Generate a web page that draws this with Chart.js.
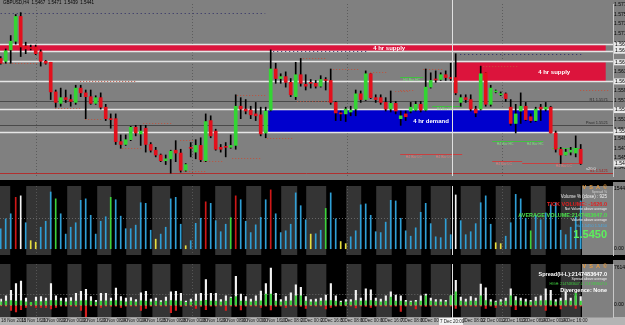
<!DOCTYPE html>
<html><head><meta charset="utf-8">
<script src="https://cdn.jsdelivr.net/npm/chart.js@4.4.1/dist/chart.umd.min.js"></script>
<style>
html,body{margin:0;padding:0;background:#000;}
#wrap{position:relative;width:625px;height:325px;background:#000;overflow:hidden;}
.pane{position:absolute;left:0;width:625px;}
</style></head><body>
<div id="wrap">
  <div class="pane" style="top:0;height:180px"><canvas id="price"></canvas></div>
  <div class="pane" style="top:182px;height:77px"><canvas id="vol"></canvas></div>
  <div class="pane" style="top:260px;height:65px"><canvas id="spread"></canvas></div>
</div>
<script>
// GBPUSD H4 candles
const opens = [1.5661,1.5655,1.5679,1.5697,1.5749,1.5687,1.5683,1.5685,1.5675,1.5655,
1.5653,1.5591,1.5567,1.5579,1.5575,1.5569,1.5599,1.5589,1.5581,1.5567,
1.5579,1.5559,1.5535,1.5535,1.5487,1.5481,1.5491,1.5517,1.5503,1.5515,
1.5481,1.5469,1.5459,1.5447,1.5451,1.5469,1.5463,1.5427,1.5475,1.5465,
1.5479,1.5447,1.5531,1.5509,1.5475,1.5477,1.5475,1.5479,1.5561,1.5555,
1.5553,1.5545,1.5543,1.5505,1.5553,1.5639,1.5619,1.5623,1.5611,1.5581,
1.5627,1.5607,1.5611,1.5609,1.5603,1.5617,1.5615,1.5569,1.5547,1.5545,
1.5549,1.5555,1.5587,1.5575,1.5629,1.5579,1.5579,1.5569,1.5555,1.5567,
1.5535,1.5545,1.5551,1.5553,1.5565,1.5553,1.5601,1.5617,1.5617,1.5627,
1.5621,1.5621,1.5569,1.5579,1.5575,1.5555,1.5555,1.5631,1.5565,1.5591,
1.5585,1.5587,1.5559,1.5525,1.5551,1.5561,1.5539,1.5531,1.5559,1.5555,
1.5559,1.5505,1.5471,1.5459,1.5465,1.5463,1.5471];
const closes = [1.5651,1.5677,1.5697,1.5749,1.5685,1.5681,1.5682,1.5671,1.5655,1.5651,
1.5591,1.5569,1.5579,1.5575,1.5571,1.5599,1.5589,1.5581,1.5567,1.5579,
1.5559,1.5535,1.5533,1.5487,1.5481,1.5491,1.5517,1.5505,1.5509,1.5481,
1.5469,1.5459,1.5447,1.5451,1.5467,1.5463,1.5427,1.5439,1.5473,1.5479,
1.5449,1.5529,1.5499,1.5471,1.5471,1.5475,1.5479,1.5561,1.5555,1.5551,
1.5543,1.5541,1.5503,1.5551,1.5639,1.5619,1.5623,1.5611,1.5585,1.5627,
1.5609,1.5603,1.5609,1.5603,1.5617,1.5615,1.5569,1.5547,1.5545,1.5555,
1.5553,1.5587,1.5575,1.5629,1.5579,1.5575,1.5569,1.5555,1.5567,1.5551,
1.5541,1.5539,1.5559,1.5565,1.5553,1.5601,1.5615,1.5616,1.5627,1.5621,
1.5619,1.5589,1.5579,1.5575,1.5555,1.5547,1.5629,1.5565,1.5599,1.5593,
1.5587,1.5577,1.5525,1.5545,1.5561,1.5533,1.5531,1.5555,1.5555,1.5559,
1.5505,1.5471,1.5459,1.5465,1.5469,1.5473,1.5441];
const highs = [1.5665,1.5681,1.5709,1.5753,1.5757,1.5695,1.5689,1.5689,1.5679,1.5657,
1.5653,1.5595,1.5599,1.5595,1.5585,1.5605,1.5605,1.5595,1.5595,1.5583,
1.5589,1.5565,1.5545,1.5545,1.5501,1.5501,1.5519,1.5521,1.5521,1.5521,
1.5485,1.5475,1.5461,1.5459,1.5469,1.5489,1.5471,1.5441,1.5485,1.5491,
1.5495,1.5545,1.5541,1.5513,1.5481,1.5485,1.5501,1.5585,1.5579,1.5575,
1.5561,1.5569,1.5559,1.5559,1.5679,1.5651,1.5629,1.5633,1.5619,1.5653,
1.5661,1.5627,1.5617,1.5615,1.5625,1.5621,1.5639,1.5571,1.5551,1.5559,
1.5561,1.5595,1.5593,1.5635,1.5629,1.5585,1.5585,1.5579,1.5593,1.5571,
1.5551,1.5551,1.5569,1.5571,1.5571,1.5639,1.5631,1.5635,1.5631,1.5635,
1.5651,1.5671,1.5585,1.5585,1.5585,1.5561,1.5645,1.5631,1.5605,1.5595,
1.5591,1.5589,1.5575,1.5565,1.5589,1.5569,1.5545,1.5559,1.5565,1.5569,
1.5561,1.5509,1.5475,1.5471,1.5475,1.5499,1.5481];
const lows = [1.5649,1.5651,1.5651,1.5691,1.5665,1.5671,1.5679,1.5669,1.5645,1.5649,
1.5575,1.5559,1.5561,1.5569,1.5561,1.5565,1.5581,1.5535,1.5565,1.5565,
1.5555,1.5531,1.5515,1.5481,1.5473,1.5479,1.5489,1.5499,1.5479,1.5465,
1.5465,1.5455,1.5445,1.5439,1.5421,1.5445,1.5423,1.5425,1.5455,1.5451,
1.5445,1.5445,1.5495,1.5469,1.5465,1.5455,1.5473,1.5471,1.5535,1.5545,
1.5535,1.5531,1.5499,1.5495,1.5551,1.5609,1.5609,1.5601,1.5581,1.5575,
1.5603,1.5595,1.5599,1.5599,1.5601,1.5595,1.5565,1.5531,1.5531,1.5529,
1.5541,1.5541,1.5569,1.5573,1.5577,1.5569,1.5565,1.5551,1.5549,1.5545,
1.5521,1.5531,1.5547,1.5551,1.5549,1.5551,1.5599,1.5611,1.5615,1.5615,
1.5615,1.5585,1.5561,1.5569,1.5551,1.5539,1.5553,1.5561,1.5561,1.5589,
1.5583,1.5571,1.5521,1.5505,1.5525,1.5531,1.5527,1.5529,1.5531,1.5551,
1.5505,1.5465,1.5441,1.5459,1.5459,1.5455,1.5439];

// VSA tick volume and bar signal (N normal, C climax, W high, G rising, L low)
const volumes = [6700,10000,11700,17200,17700,8700,2700,2200,7200,9200,
19000,16700,11700,4900,7200,8700,16200,16700,11200,4900,
9200,10700,17200,16400,10900,6700,6700,7900,15400,15200,
6200,3200,4900,7200,16700,17200,8200,1000,2700,8500,
10200,15700,15200,9400,5700,8200,10400,17700,16400,9200,
5400,8000,10500,16400,19700,11700,5400,6000,8200,18700,
14400,9700,4900,5000,6200,13500,18700,10000,2400,1700,
4000,6000,14700,15000,11200,5700,5400,8900,16200,16000,
10200,6000,4200,7000,12200,15200,8400,4000,3700,10000,
4700,18000,9400,4700,5700,8400,15400,17700,8200,2000,
1700,4200,8700,18200,16700,10200,6000,11200,9700,12000,
14700,15400,6200,4700,7200,10700,16000];
const vsaSignal = ("NNNCWNLLNN" + "NGNNNNNNNN" + "NNGNNNNNNN" + "NLNNNNNLNN" + "NCNNNNGCNN" +
  "NNNNCNNNNN" + "NNLNNGNNLL" + "NNNNNNNNNN" + "NNNNNNNNNN" + "NWNNNNNNNL" +
  "LNNNNNGNNN" + "NNNNNNN").split("");
const volAverage = 10200;

// spread panel: white = range, green = body part, red = down part
const spreadUp = [19,29,47,69,77,22,7,25,27,22,
69,29,22,22,24,37,44,50,27,15,
37,37,22,54,27,22,24,17,39,44,
19,22,14,25,42,44,37,12,19,35,
37,82,37,37,17,29,25,92,35,27,
19,29,45,69,119,37,17,27,39,65,
57,27,17,19,22,32,69,29,12,17,
17,47,22,52,49,22,19,29,42,32,
29,15,12,15,29,35,22,17,17,15,
29,79,25,19,27,22,67,55,17,12,
17,22,52,27,22,19,15,25,29,52,
47,17,22,42,22,29,27];
const spreadMid = [10,12,14,12,13,10,8,12,11,12,
14,14,12,10,12,12,13,14,12,9,
12,13,12,14,12,10,12,10,13,12,
10,12,9,12,14,13,12,8,10,12,
12,15,12,12,10,12,22,27,12,12,
10,12,13,35,35,12,10,12,13,29,
29,12,10,10,12,13,14,12,8,10,
10,14,12,13,14,12,10,12,25,12,
12,10,9,10,12,29,12,10,10,10,
29,42,12,10,12,12,29,14,10,9,
10,12,29,14,12,10,10,12,13,14,
13,10,12,14,12,37,12];
const spreadDown = [-3,-4,-18,-23,-15,-8,-3,-8,-8,-8,
-13,-8,-4,-4,-4,-5,-18,-38,-4,-3,
-8,-4,-5,-4,-8,-4,-4,-4,-18,-11,
-4,-3,-4,-4,-25,-18,-5,-3,-4,-11,
-5,-15,-4,-4,-4,-18,-4,-5,-16,-4,
-4,-4,-8,-4,-16,-5,-4,-8,-4,-4,
-5,-11,-3,-4,-4,-13,-8,-4,-3,-3,
-4,-10,-4,-5,-8,-4,-4,-4,-5,-4,
-21,-4,-3,-13,-4,-5,-4,-3,-4,-4,
-4,-11,-4,-4,-4,-5,-4,-11,-4,-8,
-3,-4,-5,-15,-4,-4,-5,-4,-4,-18,
-4,-4,-13,-4,-4,-11,-4];
const spreadAverage = 36;

// price axis and time axis labels
const priceTicks = [1.5773,1.5753,1.5733,1.5713,1.5693,1.5673,1.5653,1.5633,1.5613,1.5593,
  1.5573,1.5553,1.5533,1.5513,1.5493,1.5473,1.5453,1.5433];
const timeTickAt = [0,4,8,12,16,20,24,28,32,36,40,44,48,52,56,60,64,68,72,76,80,84,88,92,96,100,104,108,112];
const timeTickLabels = ["18 Nov 2011","18 Nov 16:00","21 Nov 08:00","22 Nov 00:00","22 Nov 16:00",
  "23 Nov 08:00","24 Nov 00:00","24 Nov 16:00","25 Nov 08:00","28 Nov 00:00","28 Nov 16:00",
  "29 Nov 08:00","30 Nov 00:00","30 Nov 16:00","1 Dec 08:00","2 Dec 00:00","2 Dec 16:00",
  "5 Dec 08:00","6 Dec 00:00","6 Dec 16:00","7 Dec 08:00","8 Dec 00:00","8 Dec 16:00",
  "9 Dec 08:00","12 Dec 00:00","12 Dec 16:00","13 Dec 08:00","14 Dec 00:00","14 Dec 16:00"];
const crosshairLabel = "7 Dec 20:00";

// zones: [top, bottom, fromBar, toBar, label]
const supplyZones = [[1.5689,1.5677,-0.2,121,"4 hr supply"],[1.5653,1.5613,90.9,121,"4 hr supply"]];
const demandZones = [[1.5553,1.5507,53.5,109.9,"4 hr demand"]];
const pivotLevels = [[1.5571,"R1 1.5571"],[1.5521,"Pivot 1.5521"]];
const supportLevel = [1.5421,"S1 1.5421"];
const fractalLines = [[1.5651,-0.1,7.3],[1.5613,15.9,27.3],[1.5557,10.9,16.3],[1.5535,16.9,20.3],
  [1.5525,28.5,34.3],[1.5473,24.3,28.3],[1.5491,35.9,38.5],[1.5425,35.9,41.3],[1.5585,47.3,52.9],
  [1.5447,39.9,44.3],[1.5453,46.3,52.3],[1.5495,53.3,58.3],[1.5593,78.9,81.9],[1.5573,59.3,65.9],
  [1.5661,59.9,65.3],[1.5639,65.9,71.9],[1.5633,73.9,77.3],[1.5639,84.5,88.5],[1.5645,95.9,103.3],
  [1.5595,79.9,82.5],[1.5595,115.9,121.9]];
const navyLines = [[1.5757,0,52.9],[1.5677,54.5,73.3],[1.5671,91.9,116.2]];
const barHC = [[1.5623,79.9,84.5,[80.5]],[1.5561,86.3,92.3,[87.2]],[1.5489,98.3,108.5,[99.2,105.2]],[1.5473,110.3,115.9,[]]];
const barLC = [[1.5461,79.9,92.3,[81,87]],[1.5447,98.3,104.3,[99]],[1.5443,104.3,115.9,[111]]];
const weekSeparators = [7, 38.26, 69.26, 100.26];
const crosshairBar = 90.26;
// lighter session columns behind the indicators, in bars
const sessionBands = [[-0.5,1.9],[5.1,10.1],[13.3,16.1],[19.3,22.1],[25.1,28.1],[30.3,33.9],[36.3,39.9],
  [42.9,46.1],[49.1,52.1],[56.1,59.3],[61.1,65.1],[69.1,72.1],[75.1,78.2],[81.1,84.1],[86,90],
  [92,96],[99,102],[106,109],[112,116]];

const X_MIN = -0.14, X_MAX = 122.46;
const GREEN = "#33d633", RED = "#e3101c";
const FONT = '"Liberation Sans", Arial, sans-serif';

function xAxis(show) {
  return { type: "linear", min: X_MIN, max: X_MAX, offset: false, display: show };
}
function rightAxis(min, max, ticks, fmt) {
  return {
    position: "right", min: min, max: max,
    afterFit: s => { s.width = 12; },
    afterBuildTicks: s => { s.ticks = ticks.map(v => ({ value: v })); },
    ticks: { font: { size: 5, family: FONT }, color: "#000", padding: 1, callback: fmt },
    grid: { display: false, drawTicks: false },
    border: { color: "#c8c8c8" }
  };
}
function baseOpts(scales) {
  return {
    animation: false, responsive: true, maintainAspectRatio: false,
    layout: { padding: 0 },
    plugins: { legend: { display: false }, tooltip: { enabled: false } },
    scales: scales
  };
}
function hline(ctx, area, y, x0, x1, color, w, dash) {
  ctx.save();
  ctx.strokeStyle = color; ctx.lineWidth = w; ctx.setLineDash(dash || []);
  ctx.beginPath(); ctx.moveTo(Math.max(x0, area.left), Math.round(y) + 0.5);
  ctx.lineTo(Math.min(x1, area.right), Math.round(y) + 0.5); ctx.stroke();
  ctx.restore();
}
function vline(ctx, x, y0, y1, color, w, dash) {
  ctx.save();
  ctx.strokeStyle = color; ctx.lineWidth = w; ctx.setLineDash(dash || []);
  ctx.beginPath(); ctx.moveTo(Math.round(x) + 0.5, y0); ctx.lineTo(Math.round(x) + 0.5, y1); ctx.stroke();
  ctx.restore();
}
function text(ctx, s, x, y, color, size, align, bold) {
  ctx.save();
  ctx.fillStyle = color; ctx.font = (bold ? "bold " : "") + size + "px " + FONT;
  ctx.textAlign = align || "left"; ctx.textBaseline = "middle";
  ctx.fillText(s, x, y);
  ctx.restore();
}

const pricePlugin = {
  id: "pricePlugin",
  beforeDraw(chart) {
    const { ctx, width, height } = chart;
    ctx.fillStyle = "#808080"; ctx.fillRect(0, 0, width, height);
  },
  beforeDatasetsDraw(chart) {
    const { ctx, chartArea: a, scales: { x, y } } = chart;
    ctx.save();
    ctx.beginPath(); ctx.rect(a.left, a.top, a.right - a.left, a.bottom - a.top); ctx.clip();
    weekSeparators.forEach(b => vline(ctx, x.getPixelForValue(b), a.top, a.bottom, "#5c5c5c", 1, [1, 2]));
    pivotLevels.forEach(p => hline(ctx, a, y.getPixelForValue(p[0]), a.left, a.right, "#4a4a4a", 1));
    hline(ctx, a, y.getPixelForValue(supportLevel[0]), a.left, a.right, "#b03030", 1);
    supplyZones.forEach(z => {
      const x0 = x.getPixelForValue(z[2]), x1 = x.getPixelForValue(z[3]);
      const y0 = y.getPixelForValue(z[0]), y1 = y.getPixelForValue(z[1]);
      ctx.fillStyle = "#dc143c"; ctx.fillRect(x0, y0, x1 - x0, y1 - y0);
    });
    demandZones.forEach(z => {
      const x0 = x.getPixelForValue(z[2]), x1 = x.getPixelForValue(z[3]);
      const y0 = y.getPixelForValue(z[0]), y1 = y.getPixelForValue(z[1]);
      ctx.fillStyle = "#0000cd"; ctx.fillRect(x0, y0, x1 - x0, y1 - y0);
    });
    supplyZones.concat(demandZones).forEach(z => {
      hline(ctx, a, y.getPixelForValue(z[0]) - 1, a.left, a.right, "#e6e6e6", 1.5);
      hline(ctx, a, y.getPixelForValue(z[1]), a.left, a.right, "#e6e6e6", 1.5);
    });
    text(ctx, supplyZones[0][4], x.getPixelForValue(74.5), y.getPixelForValue((supplyZones[0][0] + supplyZones[0][1]) / 2), "#fff", 6, "left", true);
    text(ctx, supplyZones[1][4], x.getPixelForValue(107.5), y.getPixelForValue((supplyZones[1][0] + supplyZones[1][1]) / 2), "#fff", 6, "left", true);
    text(ctx, demandZones[0][4], x.getPixelForValue(82.5), y.getPixelForValue((demandZones[0][0] + demandZones[0][1]) / 2), "#fff", 6, "left", true);
    fractalLines.forEach(f => hline(ctx, a, y.getPixelForValue(f[0]), x.getPixelForValue(f[1]), x.getPixelForValue(f[2]), "#c0503c", 1, [1, 2]));
    navyLines.forEach(f => hline(ctx, a, y.getPixelForValue(f[0]), x.getPixelForValue(f[1]), x.getPixelForValue(f[2]), "#2a2a66", 1, [1, 3]));
    barHC.forEach(f => {
      const yy = y.getPixelForValue(f[0]);
      hline(ctx, a, yy, x.getPixelForValue(f[1]), x.getPixelForValue(f[2]), "#3fc03f", 1);
      f[3].forEach(l => text(ctx, "H4 Bar HC", x.getPixelForValue(l), yy + 3, "#7be07b", 3.5));
    });
    barLC.forEach(f => {
      const yy = y.getPixelForValue(f[0]);
      hline(ctx, a, yy, x.getPixelForValue(f[1]), x.getPixelForValue(f[2]), "#c84040", 1);
      f[3].forEach(l => text(ctx, "H4 Bar LC", x.getPixelForValue(l), yy + 3, "#e07b7b", 3.5));
    });
    pivotLevels.forEach(p => text(ctx, p[1], 608, y.getPixelForValue(p[0]) - 2, "#2a2a2a", 4, "right"));
    text(ctx, supportLevel[1], 608, y.getPixelForValue(supportLevel[0]) - 2, "#a02020", 4, "right");
    text(ctx, "s20.0", 586, 169, "#e8e8e8", 4);
    ctx.restore();
  },
  afterDraw(chart) {
    const { ctx, chartArea: a, scales: { x, y } } = chart;
    vline(ctx, x.getPixelForValue(crosshairBar), 0, a.bottom, "#e0e0e0", 1);
    text(ctx, "GBPUSD,H4  1.5467  1.5471  1.5439  1.5441", 3, 3, "#000", 4.5);
    const marks = [supplyZones[0][0], supplyZones[0][1], supplyZones[1][0], supplyZones[1][1],
      demandZones[0][0], demandZones[0][1], closes[closes.length - 1]];
    marks.forEach(m => {
      const yy = y.getPixelForValue(m);
      ctx.fillStyle = "#e8e8e8"; ctx.fillRect(a.right + 1, yy - 3, 12, 6);
      text(ctx, m.toFixed(4), a.right + 2, yy, "#000", 5);
    });
  }
};

function bandsPlugin(id, lines) {
  return {
    id: id,
    beforeDraw(chart) {
      const { ctx, width, height, chartArea: a, scales: { x } } = chart;
      ctx.fillStyle = "#000"; ctx.fillRect(0, 0, width, height);
      ctx.fillStyle = "#343434";
      sessionBands.forEach(b => {
        const x0 = x.getPixelForValue(b[0]), x1 = x.getPixelForValue(b[1]);
        ctx.fillRect(x0, a.top, x1 - x0, a.bottom - a.top);
      });
      ctx.fillStyle = "#808080"; ctx.fillRect(a.right, 0, width - a.right, a.bottom);
    },
    beforeDatasetsDraw(chart) {
      const { ctx, chartArea: a, scales: { x, y } } = chart;
      weekSeparators.forEach(b => vline(ctx, x.getPixelForValue(b), a.top, a.bottom, "#555", 1, [1, 2]));
      lines.forEach(v => hline(ctx, a, y.getPixelForValue(v), a.left, a.right, "#666", 1, [1, 2]));
    }
  };
}

const volPanel = {
  id: "volPanel",
  afterDraw(chart) {
    const { ctx, chartArea: a, scales: { x } } = chart;
    vline(ctx, x.getPixelForValue(crosshairBar), a.top, a.bottom, "#e0e0e0", 1);
    ctx.fillStyle = "#808080"; ctx.fillRect(582, a.top, a.right - 582, a.bottom - a.top);
    text(ctx, "V  S  A  ©", 607, 5, "#e89a3c", 5.5, "right", true);
    text(ctx, "Spread %", 607, 10, "#d0d0d0", 3.5, "right");
    text(ctx, "Volume % (close) : 925", 607, 15, "#f0f0f0", 4.5, "right");
    text(ctx, "TICK VOLUME: -1626.0", 607, 22, "#e02020", 5.5, "right", true);
    text(ctx, "Not Volume above average", 607, 27, "#f0f0f0", 3.5, "right");
    text(ctx, "AVERAGE VOLUME:2147483647.0", 607, 33, "#4ce04c", 5.5, "right", true);
    text(ctx, "Volume above average", 607, 38, "#f0f0f0", 3.5, "right");
    text(ctx, "Va 1.5450 1.5450", 607, 44, "#4aa8e0", 4, "right");
    text(ctx, "1.5450", 607, 53, "#5cf05c", 11, "right", true);
  }
};
const spreadPanel = {
  id: "spreadPanel",
  afterDraw(chart) {
    const { ctx, chartArea: a, scales: { x } } = chart;
    const cx = x.getPixelForValue(crosshairBar);
    vline(ctx, cx, a.top, chart.height, "#e0e0e0", 1);
    ctx.fillStyle = "#808080"; ctx.fillRect(582, a.top, a.right - 582, a.bottom - a.top);
    text(ctx, "V  S  A  ©", 607, 6, "#e89a3c", 5.5, "right", true);
    text(ctx, "Spread(H-L):2147483647.0", 607, 14, "#fff", 5.5, "right", true);
    text(ctx, "Spread above average", 607, 19, "#f0f0f0", 3.5, "right");
    text(ctx, "HIGH: 2147483647.0  2147483647.0", 607, 24, "#40d040", 3.5, "right");
    text(ctx, "Divergence: None", 607, 30, "#fff", 5.5, "right", true);
    ctx.fillStyle = "#f2f2f2"; ctx.fillRect(cx - 13, a.bottom + 1, 24, 7);
    text(ctx, crosshairLabel, cx - 12, a.bottom + 4.5, "#202020", 4.5);
  }
};

new Chart(document.getElementById("price"), {
  type: "bar",
  data: { datasets: [
    { label: "body", order: 0, grouped: false, barThickness: 3, minBarLength: 1,
      data: opens.map((o, i) => ({ x: i, y: [o, closes[i]] })),
      backgroundColor: opens.map((o, i) => closes[i] >= o ? GREEN : RED) },
    { label: "wick", order: 1, grouped: false, barThickness: 1,
      data: highs.map((h, i) => ({ x: i, y: [lows[i], h] })), backgroundColor: "#000" }
  ]},
  options: baseOpts({
    x: xAxis(false),
    y: rightAxis(1.5415, 1.5775, priceTicks, v => v.toFixed(4))
  }),
  plugins: [pricePlugin]
});

const sigColor = { N: "#2f9fd6", C: "#d01818", W: "#f4f4f4", G: "#3cd23c", L: "#e8e040" };
new Chart(document.getElementById("vol"), {
  type: "bar",
  data: { datasets: [
    { label: "volume", grouped: false, barThickness: 1,
      data: volumes.map((v, i) => ({ x: i, y: v })),
      backgroundColor: vsaSignal.map(s => sigColor[s]) }
  ]},
  options: baseOpts({
    x: xAxis(false),
    y: rightAxis(-2100, 21000, [0, 20000], v => v === 0 ? "0.00" : "1544.00")
  }),
  plugins: [bandsPlugin("volBands", [volAverage]), volPanel]
});

new Chart(document.getElementById("spread"), {
  type: "bar",
  data: { datasets: [
    { label: "mid", order: 0, grouped: false, barThickness: 1.5,
      data: spreadMid.map((v, i) => ({ x: i, y: v })), backgroundColor: "#3ccf3c" },
    { label: "up", order: 1, grouped: false, barThickness: 1.5,
      data: spreadUp.map((v, i) => ({ x: i, y: v })), backgroundColor: "#f2f2f2" },
    { label: "down", order: 2, grouped: false, barThickness: 1.5,
      data: spreadDown.map((v, i) => ({ x: i, y: v })), backgroundColor: "#d42020" }
  ]},
  options: baseOpts({
    x: Object.assign(xAxis(true), {
      afterFit: s => { s.height = 8; },
      afterBuildTicks: s => { s.ticks = timeTickAt.map(v => ({ value: v })); },
      ticks: { autoSkip: false, maxRotation: 0, minRotation: 0, align: "start", padding: 1,
        font: { size: 4.5, family: FONT }, color: "#202020",
        callback: (v, k) => timeTickLabels[k] },
      grid: { display: false, drawTicks: false, tickLength: 0 }, border: { color: "#9a9a9a" }
    }),
    y: rightAxis(-39, 132, [0, 120], v => v === 0 ? "0.00" : "7614")
  }),
  plugins: [bandsPlugin("spreadBands", [spreadAverage]), spreadPanel, {
    id: "axisStrip",
    beforeDraw(chart) {
      const { ctx, chartArea: a, width, height } = chart;
      ctx.fillStyle = "#b4b4b4"; ctx.fillRect(0, a.bottom, width, height - a.bottom);
    }
  }]
});
</script>
</body></html>
